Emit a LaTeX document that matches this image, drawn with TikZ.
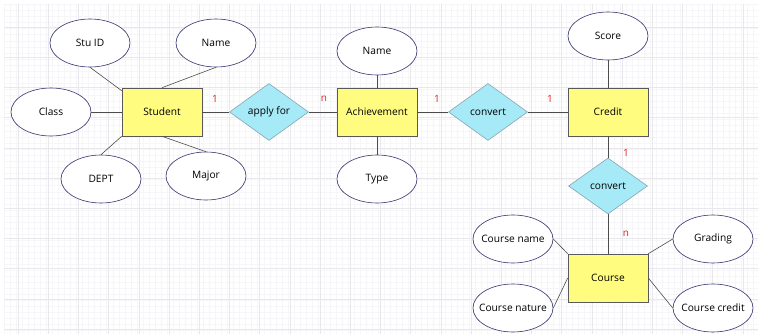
\documentclass[tikz,border=0pt]{standalone}
\usepackage{fontspec}
\setmainfont{Open Sans}
\usetikzlibrary{shapes.geometric}
\definecolor{entfill}{RGB}{255,252,128}
\definecolor{relfill}{RGB}{166,234,248}
\definecolor{gridminor}{RGB}{246,246,248}
\definecolor{gridmajor}{RGB}{232,232,236}
\definecolor{lbl}{RGB}{228,30,30}
\newcommand\zw[1]{\makebox[0pt]{#1}}
\begin{document}
\begin{tikzpicture}[x=1pt,y=-1pt,
  every node/.style={font=\fontsize{10.2}{12}\selectfont, inner sep=0pt},
  entity/.style={draw=black!65, line width=0.6pt, fill=entfill, minimum width=80pt, minimum height=48pt},
  attr/.style={draw=black!70!blue!80, line width=0.6pt, fill=white, ellipse, minimum width=80pt, minimum height=48pt},
  rel/.style={draw=black!55!cyan!60, line width=0.6pt, fill=relfill, diamond, aspect=1.4, minimum width=79pt, minimum height=57pt},
  conn/.style={draw=black!70, line width=0.6pt},
  card/.style={text=lbl, font=\fontsize{10}{12}\selectfont}]
\useasboundingbox (0,0) rectangle (758,334);
\fill[white] (0,0) rectangle (758,334);
% grid
\foreach \i in {0,...,125} {\draw[gridminor, line width=0.4pt] ({4+6.04*\i},4) -- ({4+6.04*\i},334);}
\foreach \i in {0,...,55} {\draw[gridminor, line width=0.4pt] (4,{4.5+6.04*\i}) -- (758,{4.5+6.04*\i});}
\foreach \i in {0,...,25} {\draw[gridmajor, line width=0.5pt] ({18+30.2*\i},4) -- ({18+30.2*\i},334);}
\foreach \i in {0,...,11} {\draw[gridmajor, line width=0.5pt] (4,{-3.2+30.2*\i}) -- (758,{-3.2+30.2*\i});}
% entities
\node[entity] (student) at (162,112) {Student};
\node[entity] (ach) at (377,112) {Achievement};
\node[entity] (credit) at (608,112) {Credit};
\node[entity] (course) at (608,278) {Course};
% relationships
\node[rel] (apply) at (269,112) {apply for};
\node[rel] (conv1) at (488,112) {convert};
\node[rel, minimum height=56pt] (conv2) at (608,186) {convert};
% attributes
\node[attr] (stuid) at (90,43) {Stu ID};
\node[attr] (sname) at (216,43) {Name};
\node[attr] (class) at (51,112) {Class};
\node[attr] (dept) at (101,179) {DEPT};
\node[attr] (major) at (206,176) {Major};
\node[attr] (aname) at (377,51) {Name};
\node[attr] (type) at (377,179) {Type};
\node[attr] (score) at (608,36) {Score};
\node[attr] (cname) at (513,239) {\zw{Course name}};
\node[attr] (cnature) at (513,308) {\zw{Course nature}};
\node[attr] (grading) at (713,239) {Grading};
\node[attr] (ccredit) at (713,308) {\zw{Course credit}};
% connectors
\draw[conn] (stuid.south) -- ([yshift=-3pt]student.north west);
\draw[conn] (sname.south) -- (student.north);
\draw[conn] (class.east) -- (student.west);
\draw[conn] (dept.north) -- (student.south west);
\draw[conn] (major.north) -- (student.south);
\draw[conn] (student.east) -- (apply.west);
\draw[conn] (apply.east) -- (ach.west);
\draw[conn] (aname.south) -- (ach.north);
\draw[conn] (type.north) -- (ach.south);
\draw[conn] (ach.east) -- (conv1.west);
\draw[conn] (conv1.east) -- (credit.west);
\draw[conn] (score.south) -- (credit.north);
\draw[conn] (credit.south) -- (conv2.north);
\draw[conn] (conv2.south) -- (course.north);
\draw[conn] (cname.east) -- (course.north west);
\draw[conn] (cnature.east) -- (course.west);
\draw[conn] (grading.west) -- (course.north east);
\draw[conn] (ccredit.west) -- (course.east);
% cardinalities
\node[card] (c1) at (215,99) {1};
\node[card] (c2) at (324,99) {n};
\node[card] (c3) at (437,99) {1};
\node[card] (c4) at (550,99) {1};
\node[card] (c5) at (626,153) {1};
\node[card] (c6) at (626,234) {n};
\end{tikzpicture}
\end{document}
